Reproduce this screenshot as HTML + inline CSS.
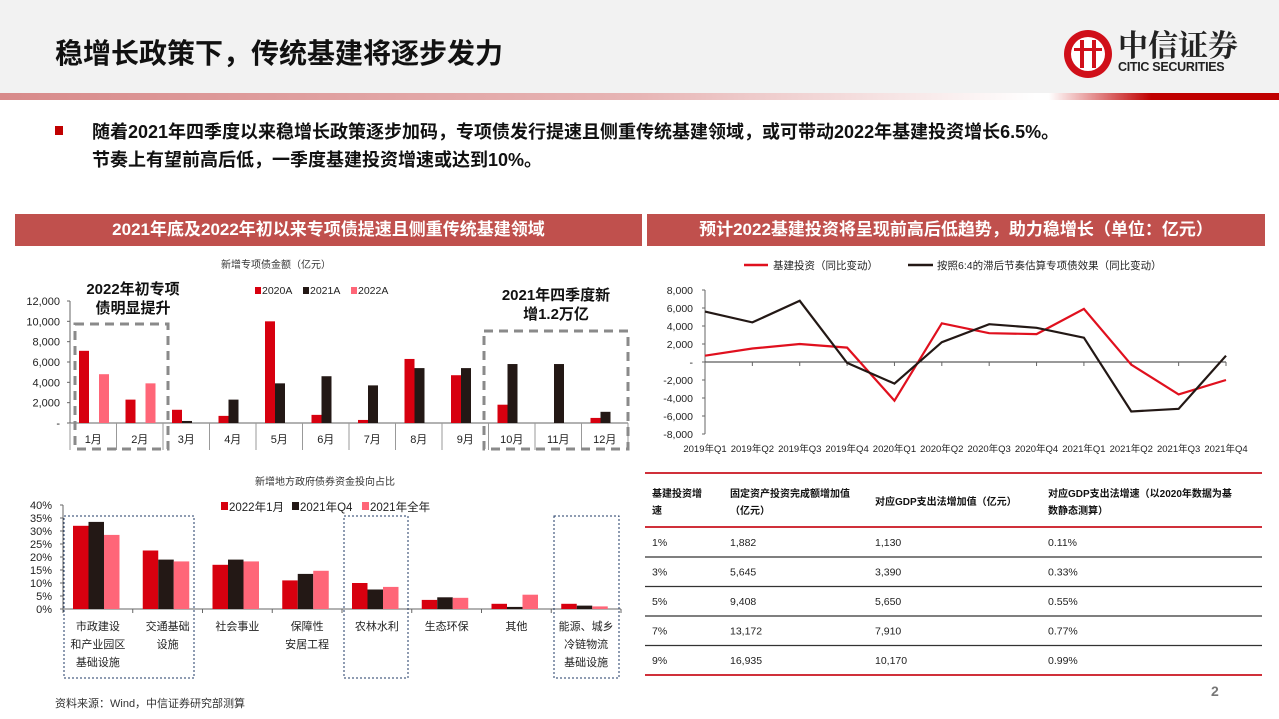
<!DOCTYPE html>
<html><head><meta charset="utf-8"><style>
body{margin:0;width:1279px;height:719px;position:relative;overflow:hidden;background:#fff;font-family:"Liberation Sans","Noto Sans CJK SC",sans-serif;}
.abs{position:absolute;}
svg text{font-family:"Liberation Sans","Noto Sans CJK SC",sans-serif;}
</style></head><body>
<div class="abs" style="left:0;top:0;width:1279px;height:93px;background:#f2f2f2"></div>
<div class="abs" style="left:0;top:93px;width:1279px;height:7px;background:linear-gradient(90deg,#d88a8a 0%,#e7b5b5 50%,#fff 81%,#fff 82%,#e8a0a0 85%,#c00000 90%,#c00000 100%)"></div>
<div class="abs" style="left:55px;top:32px;font-size:28px;font-weight:bold;color:#111">稳增长政策下，传统基建将逐步发力</div>
<div class="abs" style="left:1062px;top:26px;width:180px;height:56px">
<svg width="52" height="52" style="position:absolute;left:0;top:2px"><circle cx="26" cy="26" r="24" fill="#d0101a"/><circle cx="26" cy="26" r="17" fill="#fff"/><rect x="18" y="12" width="4" height="28" fill="#d0101a"/><rect x="30" y="12" width="4" height="28" fill="#d0101a"/><rect x="12" y="20" width="28" height="3" fill="#d0101a"/></svg>
<div class="abs" style="left:56px;top:0;font-size:30px;font-weight:bold;color:#222;font-family:'Noto Serif CJK SC',serif;line-height:34px">中信证券</div>
<div class="abs" style="left:56px;top:34px;font-size:12.5px;font-weight:bold;color:#222;letter-spacing:-0.3px">CITIC SECURITIES</div>
</div>
<div class="abs" style="left:55px;top:126px;width:8px;height:9px;background:#c00000"></div>
<div class="abs" style="left:92px;top:118px;font-size:18px;font-weight:bold;color:#111;line-height:28px">随着2021年四季度以来稳增长政策逐步加码，专项债发行提速且侧重传统基建领域，或可带动2022年基建投资增长6.5%。<br>节奏上有望前高后低，一季度基建投资增速或达到10%。</div>
<div class="abs" style="left:15px;top:214px;width:627px;height:32px;background:#c0504d;color:#fff;font-size:17px;font-weight:bold;text-align:center;line-height:32px">2021年底及2022年初以来专项债提速且侧重传统基建领域</div>
<div class="abs" style="left:647px;top:214px;width:618px;height:32px;background:#c0504d;color:#fff;font-size:17px;font-weight:bold;text-align:center;line-height:32px">预计2022基建投资将呈现前高后低趋势，助力稳增长（单位：亿元）</div>
<div class="abs" style="left:55px;top:695px;font-size:11px;color:#333">资料来源：Wind，中信证券研究部测算</div>
<div class="abs" style="left:1211px;top:683px;font-size:14px;font-weight:bold;color:#777">2</div>
<svg id="c" class="abs" style="left:0;top:0" width="1279" height="719"></svg>
<script>
const months=["1月","2月","3月","4月","5月","6月","7月","8月","9月","10月","11月","12月"];
const s2020=[7100,2300,1300,700,10000,800,300,6300,4700,1800,0,500];
const s2021=[0,0,200,2300,3900,4600,3700,5400,5400,5800,5800,1100];
const s2022=[4800,3900,0,0,0,0,0,0,0,0,0,0];
const ticks1=[0,2000,4000,6000,8000,10000,12000];

const cats2=[["市政建设","和产业园区","基础设施"],["交通基础","设施"],["社会事业"],["保障性","安居工程"],["农林水利"],["生态环保"],["其他"],["能源、城乡","冷链物流","基础设施"]];
const jan22=[32,22.5,17,11,10,3.5,2,2];
const q421=[33.5,19,19,13.5,7.5,4.5,0.8,1.3];
const full21=[28.5,18.3,18.3,14.7,8.5,4.3,5.5,1];
const ticks2=[0,5,10,15,20,25,30,35,40];

const quarters=["2019年Q1","2019年Q2","2019年Q3","2019年Q4","2020年Q1","2020年Q2","2020年Q3","2020年Q4","2021年Q1","2021年Q2","2021年Q3","2021年Q4"];
const infra=[700,1500,2000,1600,-4300,4300,3200,3100,5900,-300,-3600,-2000];
const bondEff=[5600,4400,6800,-100,-2400,2200,4200,3800,2700,-5500,-5200,700];
const ticks3=[-8000,-6000,-4000,-2000,0,2000,4000,6000,8000];

const tblHead=[["基建投资增","速"],["固定资产投资完成额增加值","（亿元）"],["对应GDP支出法增加值（亿元）"],["对应GDP支出法增速（以2020年数据为基","数静态测算）"]];
const tblRows=[["1%","1,882","1,130","0.11%"],["3%","5,645","3,390","0.33%"],["5%","9,408","5,650","0.55%"],["7%","13,172","7,910","0.77%"],["9%","16,935","10,170","0.99%"]];

const svg=document.getElementById('c');
const NS="http://www.w3.org/2000/svg";
function mk(tag,at,parent){const e=document.createElementNS(NS,tag);for(const k in at)e.setAttribute(k,at[k]);(parent||svg).appendChild(e);return e;}
function tx(x,y,s,at){const e=mk('text',Object.assign({x:x,y:y,'font-size':11,fill:'#222'},at||{}));e.textContent=s;return e;}
const fmt=v=>v===0?'-':v.toLocaleString('en-US');

// Chart 1
const x0=70,x1=628,cw1=(x1-x0)/12,yA=v=>423-v/12000*122;
tx(276,268,"新增专项债金额（亿元）",{'text-anchor':'middle','font-size':10,fill:'#333'});
ticks1.forEach(t=>{const e=tx(60,yA(t)+4,fmt(t),{'text-anchor':'end','font-size':11});mk('line',{x1:x0-3,x2:x0,y1:yA(t),y2:yA(t),stroke:'#666'});});
mk('line',{x1:x0,x2:x0,y1:yA(12000),y2:423,stroke:'#666'});
mk('line',{x1:x0,x2:x1,y1:423,y2:423,stroke:'#666'});
months.forEach((m,i)=>{const cx=x0+i*cw1;
 mk('line',{x1:cx,x2:cx,y1:423,y2:450,stroke:'#999'});
 const l=tx(cx+cw1/2,443,m,{'text-anchor':'middle','font-size':11});
 [[s2020,'#d7000f',9],[s2021,'#231815',19],[s2022,'#ff6678',29]].forEach(([arr,c,o])=>{const v=arr[i];if(v>0){const r=mk('rect',{x:cx+o,y:yA(v),width:10,height:423-yA(v),fill:c});}});
});
mk('line',{x1:x1,x2:x1,y1:423,y2:450,stroke:'#999'});
[["2020A",'#d7000f',262],["2021A",'#231815',310],["2022A",'#ff6678',358]].forEach(([n,c,x])=>{const r=mk('rect',{x:x-7,y:287,width:6,height:7,fill:c});tx(x,294,n,{'font-size':10.5});});
tx(133,294,"2022年初专项",{'text-anchor':'middle','font-size':15,'font-weight':'bold',fill:'#111'});
tx(133,313,"债明显提升",{'text-anchor':'middle','font-size':15,'font-weight':'bold',fill:'#111'});
tx(556,300,"2021年四季度新",{'text-anchor':'middle','font-size':15,'font-weight':'bold',fill:'#111'});
tx(556,319,"增1.2万亿",{'text-anchor':'middle','font-size':15,'font-weight':'bold',fill:'#111'});
mk('rect',{x:75,y:324,width:93,height:125,fill:'none',stroke:'#8a8a8a','stroke-width':3,'stroke-dasharray':'9,6'});
mk('rect',{x:484,y:331,width:144,height:118,fill:'none',stroke:'#8a8a8a','stroke-width':3,'stroke-dasharray':'9,6'});

// Chart 2
const x20=63,x21=621,cw2=(x21-x20)/8,yB=v=>609-v/40*104;
tx(325,485,"新增地方政府债券资金投向占比",{'text-anchor':'middle','font-size':10,fill:'#333'});
ticks2.forEach(t=>{tx(52,yB(t)+4,t+'%',{'text-anchor':'end','font-size':11});mk('line',{x1:x20-3,x2:x20,y1:yB(t),y2:yB(t),stroke:'#666'});});
mk('line',{x1:x20,x2:x20,y1:yB(40),y2:609,stroke:'#666'});
mk('line',{x1:x20,x2:x21,y1:609,y2:609,stroke:'#666'});
cats2.forEach((c,i)=>{const cx=x20+i*cw2;
 mk('line',{x1:cx,x2:cx,y1:609,y2:613,stroke:'#666'});
 c.forEach((ln,j)=>tx(cx+cw2/2,630+j*18,ln,{'text-anchor':'middle','font-size':11}));
 [[jan22,'#d7000f',10],[q421,'#231815',25.5],[full21,'#ff6678',41]].forEach(([arr,col,o])=>{const v=arr[i];const r=mk('rect',{x:cx+o,y:yB(v),width:15.5,height:609-yB(v),fill:col});});
});
mk('line',{x1:x21,x2:x21,y1:609,y2:613,stroke:'#666'});
[["2022年1月",'#d7000f',229],["2021年Q4",'#231815',300],["2021年全年",'#ff6678',370]].forEach(([n,c,x])=>{mk('rect',{x:x-8,y:502,width:7,height:8,fill:c});tx(x,511,n,{'font-size':11.5});});
[[64,130],[344,64],[554,65]].forEach(([x,w])=>mk('rect',{x:x,y:516,width:w,height:162,fill:'none',stroke:'#1f3864','stroke-width':1,'stroke-dasharray':'2,2'}));

// Chart 3
const x30=705,x31=1226,yC=v=>362-v/8000*72,xC=i=>x30+i*(x31-x30)/11;
ticks3.forEach(t=>{tx(693,yC(t)+4,fmt(t),{'text-anchor':'end','font-size':10.5});mk('line',{x1:x30-3,x2:x30,y1:yC(t),y2:yC(t),stroke:'#666'});});
mk('line',{x1:x30,x2:x30,y1:yC(8000),y2:yC(-8000),stroke:'#666'});
mk('line',{x1:x30,x2:x31,y1:362,y2:362,stroke:'#333'});
quarters.forEach((q,i)=>{mk('line',{x1:xC(i),x2:xC(i),y1:362,y2:366,stroke:'#666'});tx(xC(i),452,q,{'text-anchor':'middle','font-size':9.5,fill:'#222'});});
[[infra,'#e0101e','infra-line'],[bondEff,'#231815','bond-effect-line']].forEach(([arr,c,n])=>{const p=mk('polyline',{points:arr.map((v,i)=>xC(i)+','+yC(v)).join(' '),fill:'none',stroke:c,'stroke-width':2.2});});
mk('line',{x1:744,x2:768,y1:265,y2:265,stroke:'#e0101e','stroke-width':2.5});
tx(773,269,"基建投资（同比变动）",{'font-size':10.5});
mk('line',{x1:908,x2:933,y1:265,y2:265,stroke:'#231815','stroke-width':2.5});
tx(937,269,"按照6:4的滞后节奏估算专项债效果（同比变动）",{'font-size':10.5});

// Table
const colX=[652,730,875,1048];
mk('line',{x1:645,x2:1262,y1:473,y2:473,stroke:'#d0303a','stroke-width':2});
mk('line',{x1:645,x2:1262,y1:527,y2:527,stroke:'#d0303a','stroke-width':2});
tblHead.forEach((h,j)=>{const y0=h.length===1?505:497;h.forEach((ln,k)=>{const t=tx(colX[j],y0+k*17,ln,{'font-size':10,'font-weight':'bold',fill:'#111'});});});
tblRows.forEach((r,i)=>{const y=546+i*29.5;r.forEach((c,j)=>tx(colX[j],y,c,{'font-size':10.5}));
 const ly=557+i*29.5;mk('line',{x1:645,x2:1262,y1:i<4?ly:675,y2:i<4?ly:675,stroke:i<4?'#333':'#d0303a','stroke-width':i<4?1.2:2});});
</script>
</body></html>
